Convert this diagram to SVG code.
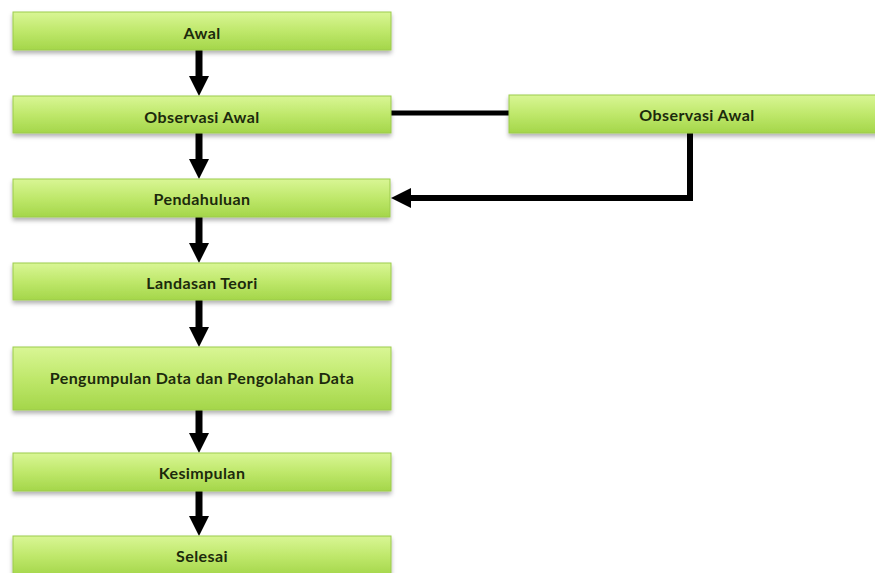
<svg xmlns="http://www.w3.org/2000/svg" width="875" height="573" viewBox="0 0 875 573">
  <defs>
    <linearGradient id="g" x1="0" y1="0" x2="0" y2="1">
      <stop offset="0" stop-color="#d9f695"/>
      <stop offset="0.5" stop-color="#bfe86b"/>
      <stop offset="1" stop-color="#a4d64a"/>
    </linearGradient>
    <filter id="sh" x="-5%" y="-20%" width="110%" height="150%">
      <feDropShadow dx="0" dy="3" stdDeviation="2" flood-color="#000" flood-opacity="0.3"/>
    </filter>
    <marker id="ah" markerUnits="userSpaceOnUse" markerWidth="20" markerHeight="20" viewBox="0 0 20 20" refX="0" refY="10" orient="auto">
      <path d="M0,0 L20,10 L0,20 z" fill="#000"/>
    </marker>
  </defs>
  <style>
    .box { fill: url(#g); stroke: #9ccb4c; stroke-width: 1; filter: url(#sh); }
    .lbl { font-family: Lato, "Liberation Sans", sans-serif; font-weight: bold; font-size: 16px; letter-spacing: 0.4px; fill: #1c2a0c; text-anchor: middle; }
    .con { stroke: #000; stroke-width: 7; fill: none; }
    .arr { marker-end: url(#ah); }
  </style>
  <rect width="875" height="573" fill="#fff"/>
  <g id="connectors">
    <line class="con arr" x1="199" y1="50" x2="199" y2="76"/>
    <line class="con arr" x1="199" y1="133" x2="199" y2="159"/>
    <line class="con arr" x1="199" y1="217" x2="199" y2="243"/>
    <line class="con arr" x1="199" y1="300" x2="199" y2="327"/>
    <line class="con arr" x1="199" y1="410" x2="199" y2="433"/>
    <line class="con arr" x1="199" y1="491" x2="199" y2="516"/>
    <line class="con" x1="391" y1="113" x2="509" y2="113" style="stroke-width:5"/>
    <path class="con arr" d="M690,133 V198 H411" style="stroke-width:6"/>
  </g>
  <g id="awal"><rect class="box" x="13" y="12" width="378" height="38"/><text class="lbl" x="202" y="39">Awal</text></g>
  <g id="observasi-awal"><rect class="box" x="13" y="96" width="378" height="37"/><text class="lbl" x="202" y="123">Observasi Awal</text></g>
  <g id="observasi-awal-2"><rect class="box" x="509" y="95" width="376" height="38"/><text class="lbl" x="697" y="121">Observasi Awal</text></g>
  <g id="pendahuluan"><rect class="box" x="13" y="179" width="377" height="38"/><text class="lbl" x="202" y="205">Pendahuluan</text></g>
  <g id="landasan-teori"><rect class="box" x="13" y="263" width="378" height="37"/><text class="lbl" x="202" y="289">Landasan Teori</text></g>
  <g id="pengumpulan"><rect class="box" x="13" y="347" width="378" height="63"/><text class="lbl" x="202" y="384">Pengumpulan Data dan Pengolahan Data</text></g>
  <g id="kesimpulan"><rect class="box" x="13" y="453" width="378" height="38"/><text class="lbl" x="202" y="479">Kesimpulan</text></g>
  <g id="selesai"><rect class="box" x="13" y="536" width="378" height="40"/><text class="lbl" x="202" y="562">Selesai</text></g>
</svg>
